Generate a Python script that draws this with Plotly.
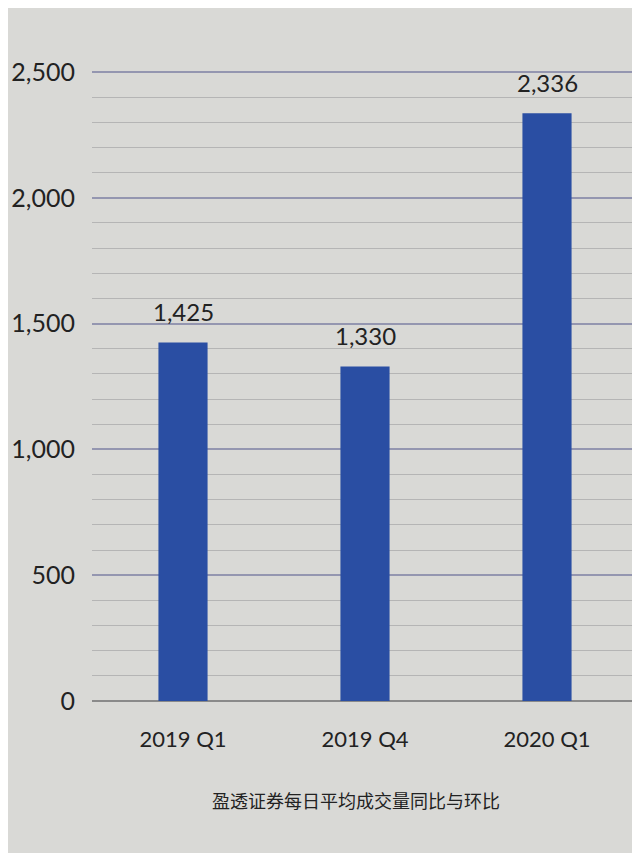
import plotly.graph_objects as go

categories = ["2019 Q1", "2019 Q4", "2020 Q1"]
values = [1425, 1330, 2336]
labels = ["1,425", "1,330", "2,336"]
title_text = "盈透证券每日平均成交量同比与环比"

FONT = "Lato, 'Noto Sans CJK SC', sans-serif"

fig = go.Figure(
    go.Bar(
        x=categories,
        y=values,
        marker=dict(color="#2a4ea3", line=dict(width=0)),
        width=0.27,
    )
)

annotations = [
    dict(
        x=c,
        y=v,
        text=t,
        xref="x",
        yref="y",
        showarrow=False,
        yanchor="bottom",
        yshift=14,
        font=dict(size=24, color="#222222", family=FONT),
    )
    for c, v, t in zip(categories, values, labels)
]

annotations.append(
    dict(
        text=title_text,
        x=0.484,
        xref="paper",
        y=-0.157,
        yref="paper",
        yanchor="middle",
        xanchor="center",
        showarrow=False,
        font=dict(size=18, color="#222222", family="'Noto Sans CJK SC', sans-serif"),
    )
)

fig.update_layout(
    width=640,
    height=853,
    margin=dict(l=84, r=10, t=63, b=160),
    paper_bgcolor="#d9d9d6",
    plot_bgcolor="#d9d9d6",
    font=dict(family=FONT, color="#222222"),
    showlegend=False,
    xaxis=dict(
        showgrid=False,
        showline=False,
        ticks="",
        tickfont=dict(size=22, color="#222222"),
        ticklabelstandoff=23,
    ),
    yaxis=dict(
        range=[0, 2504],
        automargin=False,
        tickvals=[0, 500, 1000, 1500, 2000, 2500],
        tickformat=",",
        tickfont=dict(size=25, color="#222222"),
        showgrid=True,
        gridcolor="#9496b0",
        gridwidth=1.5,
        zeroline=True,
        zerolinecolor="#8a8a8a",
        zerolinewidth=1.5,
        ticks="",
        ticklabelstandoff=16,
        minor=dict(dtick=100, showgrid=True, gridcolor="#b5b5b5", gridwidth=1),
    ),
    annotations=annotations,
)

fig.write_html("out.html")
